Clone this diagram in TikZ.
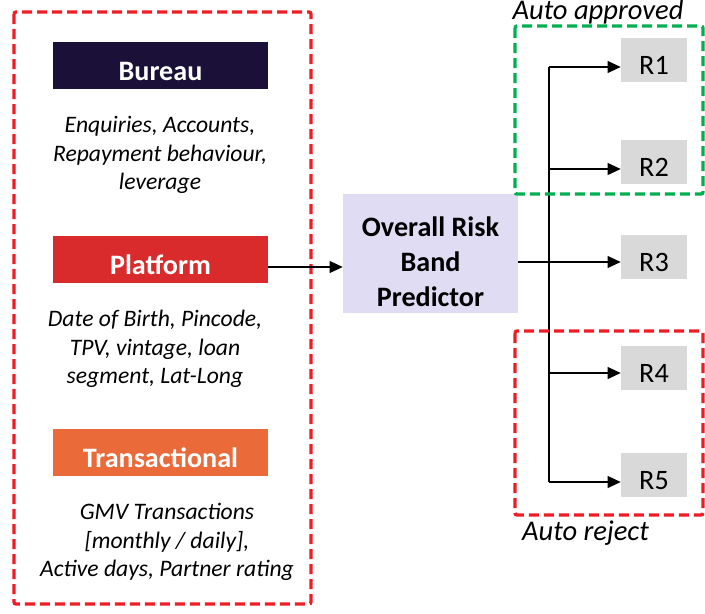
\documentclass[tikz,border=0pt]{standalone}
\usepackage{fontspec}
\setmainfont{Carlito}
\usetikzlibrary{arrows.meta}

\definecolor{bureaublue}{HTML}{1A1038}
\definecolor{platred}{HTML}{D92B2B}
\definecolor{transorange}{HTML}{EA6A3A}
\definecolor{predlilac}{HTML}{DFDCF3}
\definecolor{bandgray}{HTML}{D9D9D9}
\definecolor{dashred}{HTML}{EE1C25}
\definecolor{dashgreen}{HTML}{00B050}

\newlength\px
\setlength\px{0.025cm}

\tikzset{
  srcbox/.style={minimum width=215\px, minimum height=47\px, inner sep=0pt,
    text height=37\px, text depth=7\px,
    text=white, font=\fontsize{20}{23}\selectfont\bfseries},
  feat/.style={align=center, font=\fontsize{16.8}{20.3}\selectfont\itshape},
  bandbox/.style={fill=bandgray, minimum width=66\px, minimum height=44\px,
    inner sep=0pt, text height=36\px, text depth=7\px,
    font=\fontsize{20}{23}\selectfont},
  grp/.style={line width=3.3\px, dash pattern=on 10\px off 5\px, rounded corners=2\px},
  arr/.style={line width=1.4\px, -{Triangle[length=0.33cm,width=0.3cm]}},
  lbl/.style={anchor=base, font=\fontsize{20.3}{23}\selectfont\itshape}
}

\begin{document}
\begin{tikzpicture}[x=1\px, y=-1\px]
  \useasboundingbox (0,0) rectangle (705,613);

  % input groups
  \draw[grp, dashred] (14,12) rectangle (311,604);
  \node[srcbox, fill=bureaublue] (bureau) at (160.5,65.5) {Bureau};
  \node[feat] (bureaufeat) at (160,155) {Enquiries, Accounts,\\Repayment behaviour,\\leverage};
  \node[srcbox, fill=platred] (platform) at (160.5,259) {Platform};
  \node[feat] (platfeat) at (155,349) {Date of Birth, Pincode,\\TPV, vintage, loan\\segment, Lat-Long};
  \node[srcbox, fill=transorange] (trans) at (160.5,452) {Transactional};
  \node[feat] (transfeat) at (167,542) {GMV Transactions\\{}[monthly / daily],\\Active days, Partner rating};

  % predictor
  \node[fill=predlilac, minimum width=175\px, minimum height=119\px, inner sep=0pt] (pred) at (430.5,253.5) {};
  \node[align=center, font=\fontsize{20}{24.9}\selectfont\bfseries] (predtext) at (430.5,262)
    {Overall Risk\\Band\\Predictor};
  \coordinate (pin) at ([yshift=-8\px]platform.east);
  \draw[arr] (pin) -- (pin -| pred.west);

  % risk bands
  \node[bandbox] (r1) at (654,60) {R1};
  \node[bandbox] (r2) at (654,162) {R2};
  \node[bandbox] (r3) at (654,257) {R3};
  \node[bandbox] (r4) at (654,368) {R4};
  \node[bandbox] (r5) at (654,475) {R5};

  \foreach \n/\y in {1/67,2/169,3/262,4/373,5/482}
    \coordinate (s\n) at (549,\y);
  \draw[line width=1.4\px] (s1) -- (s5);
  \draw[line width=1.4\px] (pred.east |- s3) -- (s3);
  \foreach \n in {1,...,5}
    \draw[arr] (s\n) -- (s\n -| r\n.west);

  \draw[grp, dashgreen] (515,26) rectangle (703,194);
  \draw[grp, dashred] (515,331) rectangle (703,515);
  \node[lbl] (approved) at (598,19.5) {Auto approved};
  \node[lbl] (reject) at (585.5,540) {Auto reject};
\end{tikzpicture}
\end{document}
